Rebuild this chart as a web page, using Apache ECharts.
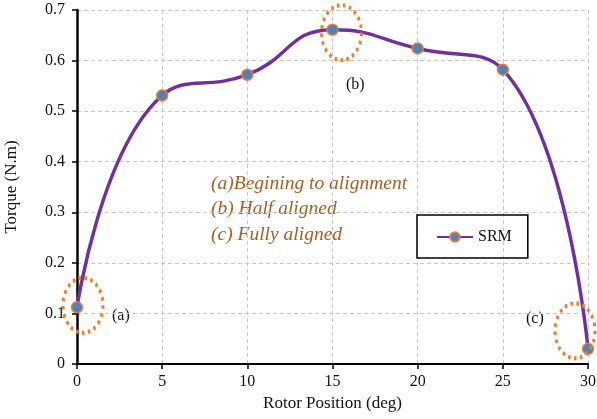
<!DOCTYPE html>
<html lang="en">
  <head>
    <meta charset="UTF-8" />
    <title>Torque vs Rotor Position</title>
    <script src="https://cdn.jsdelivr.net/npm/echarts@6/dist/echarts.min.js"></script>
    <style>
      html, body { margin: 0; padding: 0; background: #fff; }
      #main { width: 597px; height: 419px; }
    </style>
  </head>
  <body>
    <div id="main"></div>
    <script>
      // data
      var positions = [0, 5, 10, 15, 20, 25, 30];
      var torque = [0.112, 0.531, 0.572, 0.661, 0.624, 0.582, 0.03];
      var noteLines = ["(a)Begining to alignment", "(b) Half aligned", "(c) Fully aligned"];

      var chart = echarts.init(document.getElementById("main"));
      var serif = "'Liberation Serif', 'Times New Roman', serif";

      // dotted ellipses round the three highlighted points
      var ring = {
        symbol: "circle",
        symbolSize: [40, 55],
        itemStyle: {
          color: "rgba(0,0,0,0)",
          borderColor: "#ED7D31",
          borderWidth: 3.5,
          borderType: [3, 4]
        },
        label: { show: false }
      };

      var option = {
        animation: false,
        textStyle: { fontFamily: serif },
        grid: { left: 77, right: 9, top: 10, bottom: 55, outerBoundsMode: "none" },
        xAxis: {
          type: "value",
          min: 0,
          max: 30,
          interval: 5,
          name: "Rotor Position (deg)",
          nameLocation: "middle",
          nameGap: 31,
          nameTextStyle: { fontSize: 17, color: "#111", fontFamily: serif },
          axisLine: { onZero: false, lineStyle: { color: "#000", width: 2 } },
          axisTick: { show: true, length: 5, lineStyle: { color: "#000", width: 1.5 } },
          axisLabel: { fontSize: 16, color: "#111", margin: 10, fontFamily: serif },
          splitLine: { show: true, showMinLine: false, lineStyle: { color: "#c8c8c8", type: [4, 3] } }
        },
        yAxis: {
          type: "value",
          position: "left",
          min: 0,
          max: 0.7,
          interval: 0.1,
          name: "Torque (N.m)",
          nameLocation: "middle",
          nameGap: 57,
          nameTextStyle: { fontSize: 17, color: "#111", fontFamily: serif },
          axisLine: { show: true, onZero: false, lineStyle: { color: "#000", width: 2.5 } },
          axisTick: { show: true, length: 5, lineStyle: { color: "#000", width: 1.5 } },
          axisLabel: { fontSize: 16, color: "#111", margin: 12, fontFamily: serif },
          splitLine: { show: true, showMinLine: false, lineStyle: { color: "#c8c8c8", type: [4, 3] } }
        },
        legend: {
          left: 417,
          top: 215,
          width: 111,
          padding: [14, 16, 13, 19],
          borderColor: "#000",
          borderWidth: 1.5,
          itemWidth: 36,
          itemHeight: 12,
          itemGap: 6,
          textStyle: { fontSize: 16, color: "#111", fontFamily: serif },
          data: ["SRM"]
        },
        graphic: [
          {
            type: "text",
            left: 211,
            top: 171,
            style: {
              text: noteLines.join("\n"),
              fill: "#A45F22",
              font: "italic 19.5px " + serif,
              lineHeight: 25.5
            }
          },
          { type: "text", left: 112, top: 308, style: { text: "(a)", fill: "#111", font: "16px " + serif } },
          { type: "text", left: 346, top: 77, style: { text: "(b)", fill: "#111", font: "16px " + serif } },
          { type: "text", left: 526, top: 311, style: { text: "(c)", fill: "#111", font: "16px " + serif } }
        ],
        series: [
          {
            name: "SRM",
            type: "line",
            smooth: 0.5,
            data: positions.map(function (p, i) { return [p, torque[i]]; }),
            symbol: "circle",
            symbolSize: 11,
            lineStyle: { color: "#7030A0", width: 3.5 },
            itemStyle: { color: "#4F81BD", borderColor: "#ED7D31", borderWidth: 1.5 },
            z: 3,
            markPoint: {
              z: 4,
              data: [
                Object.assign({ coord: [positions[0], torque[0]], symbolOffset: [6, -2] }, ring),
                Object.assign({ coord: [positions[3], torque[3]], symbolOffset: [9, 3] }, ring),
                Object.assign({ coord: [positions[6], torque[6]], symbolOffset: [-13, -18] }, ring)
              ]
            }
          }
        ]
      };

      chart.setOption(option);
    </script>
  </body>
</html>
